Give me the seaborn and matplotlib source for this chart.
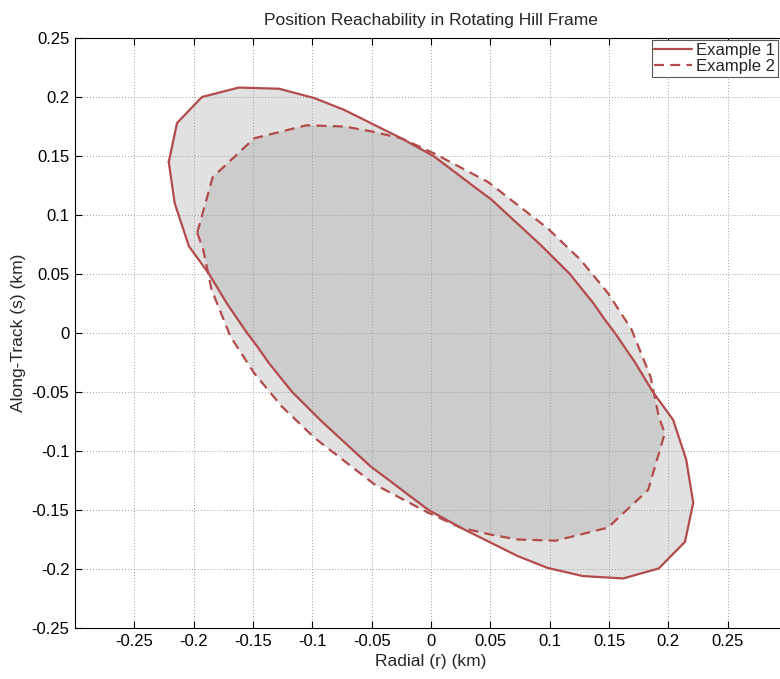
import numpy as np
import pandas as pd
import matplotlib
matplotlib.use("Agg")
import matplotlib.pyplot as plt
import seaborn as sns

# Example 1 boundary (radial, along-track) in km
r1 = [-0.221, -0.214, -0.193, -0.162, -0.128, -0.098, -0.073, -0.051, -0.025,
      0.002, 0.018, 0.035, 0.051, 0.065, 0.092, 0.117, 0.137, 0.146, 0.155, 0.172,
      0.187, 0.204, 0.215, 0.221, 0.214, 0.192, 0.162, 0.128, 0.098, 0.073, 0.051,
      0.025, -0.002, -0.018, -0.035, -0.051, -0.065, -0.092, -0.117, -0.137, -0.146,
      -0.155, -0.172, -0.187, -0.204, -0.216]
s1 = [0.145, 0.178, 0.200, 0.208, 0.207, 0.199, 0.189, 0.178, 0.165,
      0.150, 0.138, 0.125, 0.113, 0.100, 0.075, 0.050, 0.025, 0.012, 0.000, -0.025,
      -0.050, -0.0735, -0.107, -0.144, -0.177, -0.1995, -0.208, -0.206, -0.199, -0.189, -0.178,
      -0.165, -0.150, -0.138, -0.125, -0.113, -0.100, -0.075, -0.050, -0.025, -0.012,
      0.000, 0.025, 0.050, 0.0735, 0.110]

# Example 2 boundary
r2 = [-0.197, -0.184, -0.149, -0.105, -0.073, -0.051, -0.025, 0.003, 0.048,
      0.098, 0.126, 0.149, 0.169, 0.185, 0.192, 0.197, 0.183, 0.149, 0.105,
      0.073, 0.051, 0.025, -0.003, -0.048, -0.098, -0.126, -0.149, -0.169,
      -0.185, -0.192]
s2 = [0.085, 0.132, 0.165, 0.176, 0.175, 0.171, 0.165, 0.152, 0.128,
      0.089, 0.062, 0.034, 0.003, -0.037, -0.071, -0.085, -0.133, -0.165, -0.176,
      -0.175, -0.171, -0.165, -0.152, -0.128, -0.089, -0.062, -0.034, -0.003,
      0.037, 0.071]

labels = ["Example 1", "Example 2"]
x_ticks = [-0.25, -0.2, -0.15, -0.1, -0.05, 0, 0.05, 0.1, 0.15, 0.2, 0.25]
x_ticklabels = ["-0.25", "-0.2", "-0.15", "-0.1", "-0.05", "0", "0.05", "0.1", "0.15", "0.2", "0.25"]
y_ticks = x_ticks
y_ticklabels = x_ticklabels

sns.set_style("ticks")
plt.rcParams["font.family"] = ["Liberation Sans", "DejaVu Sans"]

line_col = "#b34a4c"

fig = plt.figure(figsize=(7.8, 6.79), dpi=100)
ax = fig.add_axes([75 / 780, 51 / 679, 712 / 780, 590 / 679])

# shaded regions (overlap gets darker)
ax.fill(r1, s1, color="0.62", alpha=0.3, lw=0, zorder=1)
ax.fill(r2, s2, color="0.62", alpha=0.3, lw=0, zorder=1)

df1 = pd.DataFrame({"r": r1 + r1[:1], "s": s1 + s1[:1]})
df2 = pd.DataFrame({"r": r2 + r2[:1], "s": s2 + s2[:1]})
sns.lineplot(data=df1, x="r", y="s", sort=False, estimator=None, ax=ax,
             color=line_col, lw=1.6, label=labels[0], zorder=3)
sns.lineplot(data=df2, x="r", y="s", sort=False, estimator=None, ax=ax,
             color=line_col, lw=1.6, dashes=(4.5, 2.8), label=labels[1], zorder=3)

ax.set_xlim(-0.3, 0.3)
ax.set_ylim(-0.25, 0.25)
ax.set_xticks(x_ticks)
ax.set_xticklabels(x_ticklabels)
ax.set_yticks(y_ticks)
ax.set_yticklabels(y_ticklabels)
ax.tick_params(direction="in", top=True, right=True, length=5, width=0.8,
               labelsize=12, colors="black", pad=4)
ax.grid(True, linestyle=(0, (1, 2.5)), color="0.5", lw=0.6, zorder=0)
for sp in ax.spines.values():
    sp.set_color("black")
    sp.set_linewidth(0.8)
ax.spines["right"].set_visible(False)

ax.set_xlabel("Radial (r) (km)", fontsize=12.5)
ax.set_ylabel("Along-Track (s) (km)", fontsize=12.5)
ax.set_title("Position Reachability in Rotating Hill Frame", fontsize=12.5, pad=9)

leg = ax.legend(loc="upper right", bbox_to_anchor=(778 / 780, 1 - 40 / 679),
                bbox_transform=fig.transFigure, fontsize=12, frameon=True,
                fancybox=False, edgecolor="0.35", framealpha=1, borderpad=0.15,
                labelspacing=0.1, handlelength=2.3, handletextpad=0.25,
                borderaxespad=0)
leg.get_frame().set_linewidth(0.8)

fig.savefig("out.png", dpi=100)
